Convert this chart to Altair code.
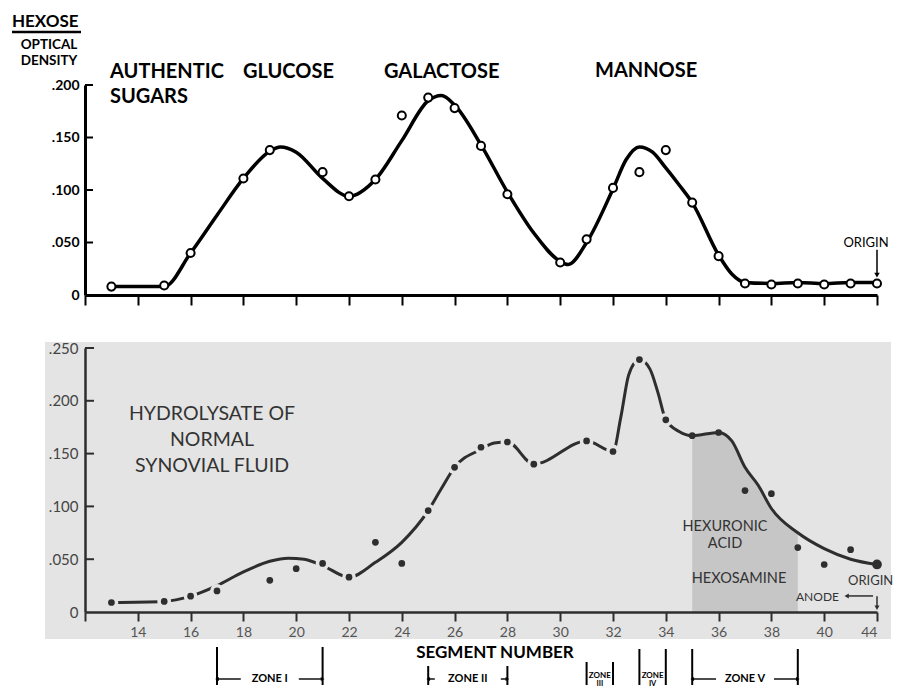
import altair as alt
import pandas as pd

# ---------------- data ----------------
# Top panel: authentic sugars (segment number vs optical density)
top_seg = [13, 15, 16, 18, 19, 21, 22, 23, 24, 25, 26, 27, 28, 30, 31, 32, 33, 34,
           35, 36, 37, 38, 39, 40, 41, 42]
top_od = [0.008, 0.009, 0.040, 0.111, 0.138, 0.117, 0.094, 0.110, 0.171, 0.188,
          0.178, 0.142, 0.096, 0.031, 0.053, 0.102, 0.117, 0.138, 0.088, 0.037,
          0.011, 0.010, 0.011, 0.010, 0.011, 0.011]
# hand-drawn smooth curve (knots)
top_curve_seg = [13, 15, 16, 17, 18, 19, 19.4, 20, 21, 22, 23, 24, 25, 25.5, 26, 27,
                 28, 29, 30, 30.3, 31, 32, 32.5, 33, 33.5, 34, 34.5, 35, 36, 36.5, 37,
                 38, 39, 40, 41, 42]
top_curve_od = [0.008, 0.008, 0.040, 0.076, 0.111, 0.137, 0.141, 0.136, 0.111, 0.094,
                0.110, 0.147, 0.185, 0.190, 0.181, 0.143, 0.098, 0.059, 0.032, 0.029,
                0.050, 0.101, 0.129, 0.141, 0.136, 0.121, 0.105, 0.088, 0.038, 0.020,
                0.012, 0.011, 0.012, 0.011, 0.012, 0.012]

# Bottom panel: hydrolysate of normal synovial fluid
bot_seg = [13, 15, 16, 17, 19, 20, 21, 22, 23, 24, 25, 26, 27, 28, 29, 31, 32, 33,
           34, 35, 36, 37, 38, 39, 40, 41, 42]
bot_od = [0.009, 0.010, 0.015, 0.020, 0.030, 0.041, 0.046, 0.033, 0.066, 0.046,
          0.096, 0.137, 0.156, 0.161, 0.140, 0.162, 0.152, 0.239, 0.182, 0.167,
          0.170, 0.115, 0.112, 0.061, 0.045, 0.059, 0.045]
bot_curve_seg = [13, 15, 16, 17, 18, 19, 19.7, 20.3, 21, 22, 23, 24, 25, 25.5, 26, 27,
                 27.5, 28, 29, 31, 32, 32.3, 32.6, 33, 33.4, 33.7, 34, 34.5, 35, 36,
                 36.5, 37, 37.5, 38, 39, 40, 41, 42]
bot_curve_od = [0.009, 0.010, 0.015, 0.025, 0.038, 0.048, 0.051, 0.050, 0.044, 0.033,
                0.047, 0.066, 0.096, 0.117, 0.137, 0.154, 0.160, 0.161, 0.140, 0.162,
                0.152, 0.185, 0.225, 0.239, 0.230, 0.208, 0.182, 0.171, 0.167, 0.170,
                0.162, 0.137, 0.120, 0.098, 0.075, 0.060, 0.050, 0.045]
shade_start, shade_end = 35, 39

# Zones under the axis
zone_names = ["ZONE I", "ZONE II", "ZONE III", "ZONE IV", "ZONE V"]
zone_start = [17, 25, 31, 33, 35]
zone_end = [21, 28, 32, 34, 39]

x_ticks = list(range(12, 43, 2))
top_y_ticks = [0, 0.05, 0.10, 0.15, 0.20]
bot_y_ticks = [0, 0.05, 0.10, 0.15, 0.20, 0.25]

# ---------------- styling ----------------
FONT = "Lato"
W, TH, BH = 792, 210, 264
BG = "#e4e4e4"
SHADE = "#c6c6c6"
INK = "#2e2e2e"
SEG_PX = W / 30.0
ZONE_TOP = [299, 318, 314, 301, 301]   # pixel offsets below the lower plot's top
ZONE_BOTTOM = 337
ZONE_ARROW_Y = 331

xscale = alt.Scale(domain=[12, 42], nice=False, zero=False)
top_y = alt.Scale(domain=[0, 0.2], nice=False)
bot_y = alt.Scale(domain=[0, 0.25], nice=False)
y_label_expr = "datum.value == 0 ? '0' : replace(format(datum.value, '.3f'), '0.', '.')"

one = pd.DataFrame({"k": [0]})


def label(text, x, y, size, weight="normal", align="left", color="black"):
    return alt.Chart(one).mark_text(
        text=text, align=align, baseline="middle", font=FONT, fontSize=size,
        fontWeight=weight, color=color
    ).encode(x=alt.value(x), y=alt.value(y))


def pxrule(x1, x2, y1, y2, width=2, color="black"):
    return alt.Chart(one).mark_rule(color=color, strokeWidth=width).encode(
        x=alt.value(x1), x2=alt.value(x2), y=alt.value(y1), y2=alt.value(y2))


# ---------------- top panel ----------------
top_df = pd.DataFrame({"seg": top_seg, "od": top_od})
top_curve_df = pd.DataFrame({"seg": top_curve_seg, "od": top_curve_od})

top_x_axis = alt.Axis(values=x_ticks, labels=False, tickSize=10, tickWidth=2,
                      tickColor="black", domainColor="black", domainWidth=3,
                      grid=False, title=None)
top_y_axis = alt.Axis(values=top_y_ticks, labelExpr=y_label_expr, ticks=False,
                      domainColor="black", domainWidth=3, grid=False, title=None,
                      labelFont=FONT, labelFontSize=14, labelFontWeight="bold",
                      labelColor="black", labelPadding=6)

top_curve = alt.Chart(top_curve_df).mark_line(
    interpolate="monotone", color="black", strokeWidth=3.5
).encode(
    x=alt.X("seg:Q", scale=xscale, axis=top_x_axis),
    y=alt.Y("od:Q", scale=top_y, axis=top_y_axis),
)
top_pts = alt.Chart(top_df).mark_circle(
    fill="white", stroke="black", strokeWidth=2, size=65, opacity=1
).encode(x="seg:Q", y="od:Q")
top_yt = alt.Chart(pd.DataFrame({"od": top_y_ticks[1:]})).mark_rule(
    color="black", strokeWidth=2
).encode(y="od:Q", x=alt.value(0), x2=alt.value(8))

origin_top = pd.DataFrame({"seg": [42], "od": [0.043], "od2": [0.019]})
top_arrow = alt.Chart(origin_top).mark_rule(color="black", strokeWidth=1.5).encode(
    x="seg:Q", y="od:Q", y2="od2:Q")
top_head = alt.Chart(origin_top).mark_point(
    shape="triangle-down", filled=True, color="black", size=30, opacity=1
).encode(x="seg:Q", y="od2:Q")

top = alt.layer(
    top_curve, top_pts, top_yt, top_arrow, top_head,
    label("HEXOSE", -73, -63, 17, "bold"),
    pxrule(-73, -4, -53, -53, 2.5),
    label("OPTICAL", -36, -40, 13.5, "bold", "center"),
    label("DENSITY", -36, -24, 13.5, "bold", "center"),
    label("AUTHENTIC", 25, -13, 20, "bold"),
    label("SUGARS", 25, 12, 20, "bold"),
    label("GLUCOSE", 158, -13, 20, "bold"),
    label("GALACTOSE", 299, -13, 20, "bold"),
    label("MANNOSE", 510, -14, 20, "bold"),
    label("ORIGIN", 781, 158, 13, "normal", "center"),
).properties(width=W, height=TH)

# ---------------- bottom panel ----------------
bot_df = pd.DataFrame({"seg": bot_seg, "od": bot_od})
bot_curve_df = pd.DataFrame({"seg": bot_curve_seg, "od": bot_curve_od})

bot_x_axis = alt.Axis(values=x_ticks,
                      labelExpr="datum.value == 12 ? '' : datum.value == 42 ? '44' : datum.value",
                      tickSize=9, tickWidth=2, tickColor=INK, domainColor=INK,
                      domainWidth=2.5, grid=False, title=None, labelFont=FONT,
                      labelFontSize=14, labelColor="#555555", labelPadding=4, zindex=1)
bot_y_axis = alt.Axis(values=bot_y_ticks, labelExpr=y_label_expr, ticks=False,
                      domainColor=INK, domainWidth=2.5, grid=False, title=None,
                      labelFont=FONT, labelFontSize=15, labelColor="#444444",
                      labelPadding=7, zindex=1)

bg = alt.Chart(one).mark_rect(color=BG).encode(
    x=alt.value(-40), x2=alt.value(806), y=alt.value(-6), y2=alt.value(BH + 27))
shade = alt.Chart(bot_curve_df).transform_filter(
    f"datum.seg >= {shade_start} && datum.seg <= {shade_end}"
).mark_area(interpolate="monotone", color=SHADE).encode(
    x=alt.X("seg:Q", scale=xscale, axis=bot_x_axis),
    y=alt.Y("od:Q", scale=bot_y, axis=bot_y_axis),
)
bot_curve = alt.Chart(bot_curve_df).mark_line(
    interpolate="monotone", color=INK, strokeWidth=3
).encode(x="seg:Q", y="od:Q")
halo = alt.Chart(bot_df).transform_filter("datum.seg <= 34").mark_circle(
    color=BG, size=190, opacity=1).encode(x="seg:Q", y="od:Q")
bot_pts = alt.Chart(bot_df).transform_filter("datum.seg < 42").mark_circle(
    color=INK, size=45, opacity=1).encode(x="seg:Q", y="od:Q")
bot_last = alt.Chart(bot_df).transform_filter("datum.seg == 42").mark_circle(
    color=INK, size=95, opacity=1).encode(x="seg:Q", y="od:Q")
bot_yt = alt.Chart(pd.DataFrame({"od": bot_y_ticks[1:]})).mark_rule(
    color=INK, strokeWidth=2).encode(y="od:Q", x=alt.value(0), x2=alt.value(9))

# arrows near ORIGIN / ANODE
anode = pd.DataFrame({"seg": [40.85], "seg2": [41.85], "od": [0.0152]})
anode_line = alt.Chart(anode).mark_rule(color=INK, strokeWidth=1.5).encode(
    x="seg:Q", x2="seg2:Q", y="od:Q")
anode_head = alt.Chart(anode).mark_point(
    shape="triangle-left", filled=True, color=INK, size=25, opacity=1
).encode(x="seg:Q", y="od:Q")
orig = pd.DataFrame({"seg": [42], "od": [0.015], "od2": [0.004]})
orig_line = alt.Chart(orig).mark_rule(color=INK, strokeWidth=1.5).encode(
    x="seg:Q", y="od:Q", y2="od2:Q")
orig_head = alt.Chart(orig).mark_point(
    shape="triangle-down", filled=True, color=INK, size=25, opacity=1
).encode(x="seg:Q", y="od2:Q")

# zones
zone_layers = []
for name, s, e, ztop in zip(zone_names, zone_start, zone_end, ZONE_TOP):
    zb = pd.DataFrame({"seg": [s, e]})
    zone_layers.append(
        alt.Chart(zb).mark_rule(color="black", strokeWidth=2).encode(
            x="seg:Q", y=alt.value(ztop), y2=alt.value(ZONE_BOTTOM)))
    num = name.replace("ZONE ", "")
    mid = (s + e) / 2
    if e - s > 1:
        half = (len(name) * 4.0 + 5) / SEG_PX
        zd = pd.DataFrame({"s": [s], "e": [e], "mid": [mid], "l2": [mid - half],
                           "r1": [mid + half], "name": [name]})
        base = alt.Chart(zd)
        zone_layers += [
            base.mark_rule(color="black", strokeWidth=1.4).encode(
                x="s:Q", x2="l2:Q", y=alt.value(ZONE_ARROW_Y)),
            base.mark_rule(color="black", strokeWidth=1.4).encode(
                x="r1:Q", x2="e:Q", y=alt.value(ZONE_ARROW_Y)),
            base.mark_point(shape="triangle-left", filled=True, color="black",
                            size=18, opacity=1).encode(
                x="s:Q", y=alt.value(ZONE_ARROW_Y)),
            base.mark_point(shape="triangle-right", filled=True, color="black",
                            size=18, opacity=1).encode(
                x="e:Q", y=alt.value(ZONE_ARROW_Y)),
            base.mark_text(font=FONT, fontSize=11, fontWeight="bold",
                           color="black").encode(
                x="mid:Q", y=alt.value(ZONE_ARROW_Y), text="name:N"),
        ]
    else:
        zd = pd.DataFrame({"mid": [mid], "num": [num]})
        base = alt.Chart(zd)
        zone_layers += [
            base.mark_text(font=FONT, fontSize=8, fontWeight="bold",
                           color="black").encode(
                x="mid:Q", y=alt.value(ZONE_ARROW_Y - 3), text=alt.value("ZONE")),
            base.mark_text(font=FONT, fontSize=7.5, fontWeight="bold",
                           color="black").encode(
                x="mid:Q", y=alt.value(ZONE_ARROW_Y + 5), text="num:N"),
        ]

bottom = alt.layer(
    bg, shade, bot_curve, halo, bot_pts, bot_last, bot_yt,
    anode_line, anode_head, orig_line, orig_head,
    label("HYDROLYSATE  OF", 127, 66, 19.5, "normal", "center", "#333333"),
    label("NORMAL", 127, 92, 19.5, "normal", "center", "#333333"),
    label("SYNOVIAL  FLUID", 127, 118, 19.5, "normal", "center", "#333333"),
    label("HEXURONIC", 640, 179, 14.5, "normal", "center", "#333333"),
    label("ACID", 640, 196, 14.5, "normal", "center", "#333333"),
    label("HEXOSAMINE", 654, 231, 14.5, "normal", "center", "#333333"),
    label("ORIGIN", 763, 233, 13, "normal", "left", "#333333"),
    label("ANODE", 711, 249, 12, "normal", "left", "#333333"),
    label("SEGMENT NUMBER", 410, 305, 17, "bold", "center"),
    *zone_layers,
).properties(width=W, height=BH)

chart = alt.vconcat(top, bottom, spacing=35).properties(
    padding={"left": 2, "top": 5, "right": 0, "bottom": 0}
).configure_view(stroke=None)

chart.save("out.html", embed_options={"renderer": "svg", "actions": False})
